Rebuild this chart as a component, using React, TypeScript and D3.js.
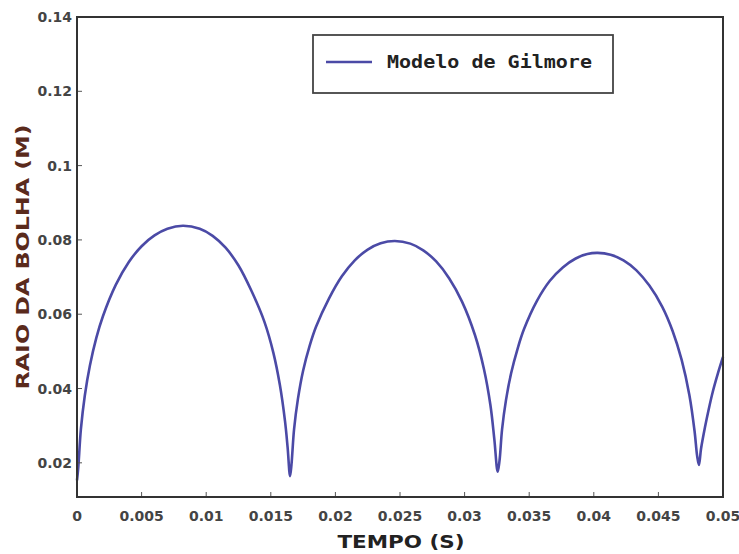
import React from "react";
import * as d3 from "d3";

const timeS: number[] = [
  0, 0.0001, 0.0003, 0.0006, 0.001, 0.0015, 0.002, 0.003, 0.004, 0.005, 0.006, 0.007, 0.0082,
  0.0095, 0.0105, 0.0115, 0.0125, 0.0135, 0.0145, 0.0152, 0.0157, 0.0161, 0.0163, 0.01649,
  0.0166, 0.0168, 0.0171, 0.0175, 0.018, 0.0185, 0.0195, 0.0205, 0.0215, 0.0225, 0.0235, 0.0246,
  0.0258, 0.0268, 0.0278, 0.0288, 0.0298, 0.0308, 0.0315, 0.032, 0.0323, 0.03256,
  0.0327, 0.0329, 0.0332, 0.0336, 0.0341, 0.0346, 0.0356, 0.0366, 0.0376, 0.0386, 0.0395, 0.0403,
  0.0413, 0.0423, 0.0433, 0.0443, 0.0453, 0.0461, 0.0468, 0.0474, 0.0478, 0.048, 0.04814,
  0.0483, 0.0486, 0.0489, 0.0492, 0.0496, 0.05,
];
const radiusM: number[] = [
  0.0153, 0.0188, 0.029, 0.038, 0.0462, 0.0537, 0.0594, 0.0679, 0.074, 0.0783, 0.0812, 0.083, 0.0838,
  0.083, 0.0811, 0.0779, 0.0731, 0.0663, 0.058, 0.0496, 0.041, 0.0312, 0.0242, 0.0164,
  0.0195, 0.029, 0.0372, 0.0448, 0.0514, 0.0566, 0.0642, 0.0702, 0.0745, 0.0774, 0.0791, 0.0797,
  0.079, 0.0772, 0.0742, 0.0697, 0.0634, 0.0544, 0.0452, 0.0355, 0.0264, 0.0176,
  0.0205, 0.029, 0.0368, 0.0441, 0.0507, 0.056, 0.0636, 0.069, 0.0726, 0.075, 0.0762, 0.0765,
  0.076, 0.0745, 0.0718, 0.0677, 0.062, 0.0555, 0.0477, 0.0382, 0.0285, 0.0218, 0.0194,
  0.0238, 0.0295, 0.0345, 0.039, 0.044, 0.0485,
];

const xTicks: number[] = [0, 0.005, 0.01, 0.015, 0.02, 0.025, 0.03, 0.035, 0.04, 0.045, 0.05];
const xTickLabels: string[] = ["0", "0.005", "0.01", "0.015", "0.02", "0.025", "0.03", "0.035", "0.04", "0.045", "0.05"];
const yTicks: number[] = [0.02, 0.04, 0.06, 0.08, 0.1, 0.12, 0.14];
const yTickLabels: string[] = ["0.02", "0.04", "0.06", "0.08", "0.1", "0.12", "0.14"];
const seriesName = "Modelo de Gilmore";
const xTitle = "TEMPO (S)";
const yTitle = "RAIO DA BOLHA (M)";

const W = 739;
const H = 554;
const L = 77;
const R = 723;
const T = 17;
const B = 497;

export default function App() {
  const x = d3.scaleLinear().domain([0, 0.05]).range([L, R]);
  const y = d3.scaleLinear().domain([0.0108, 0.14]).range([B, T]);
  const pts = timeS.map((t, i) => [t, radiusM[i]] as [number, number]);
  const line = d3
    .line<[number, number]>()
    .x((d) => x(d[0]))
    .y((d) => y(d[1]))
    .curve(d3.curveCatmullRom.alpha(0.5));
  const tickFont = "DejaVu Sans";
  return (
    <svg
      width={W}
      height={H}
      style={{ position: "absolute", left: 0, top: 0, background: "#fff" }}
    >
      <rect x={0} y={0} width={W} height={H} fill="#fff" />
      <path d={line(pts) || ""} fill="none" stroke="#4b4aa6" strokeWidth={2.6} strokeLinejoin="round" />
      {xTicks.map((t, i) => (
        <g key={"x" + i}>
          <line x1={x(t)} x2={x(t)} y1={B} y2={B - 5} stroke="#555" strokeWidth={1} />
          <text
            x={x(t)}
            y={B + 24}
            textAnchor="middle"
            fontFamily={tickFont}
            fontSize={14}
            fontWeight="bold"
            fill="#444"
          >
            {xTickLabels[i]}
          </text>
        </g>
      ))}
      {yTicks.map((v, i) => (
        <g key={"y" + i}>
          <line x1={L} x2={L + 5} y1={y(v)} y2={y(v)} stroke="#555" strokeWidth={1} />
          <text
            x={L - 5}
            y={y(v) + 5}
            textAnchor="end"
            fontFamily={tickFont}
            fontSize={14}
            fontWeight="bold"
            fill="#444"
          >
            {yTickLabels[i]}
          </text>
        </g>
      ))}
      <rect x={L} y={T} width={R - L} height={B - T} fill="none" stroke="#333" strokeWidth={2} />
      <g>
        <rect x={313} y={35} width={300} height={58} fill="#fff" stroke="#444" strokeWidth={1.8} />
        <line x1={326} x2={372} y1={62} y2={62} stroke="#4b4aa6" strokeWidth={2.6} />
        <text
          x={387}
          y={68}
          fontFamily="DejaVu Sans Mono"
          fontSize={17}
          fontWeight="bold"
          fill="#222"
          textLength={205}
          lengthAdjust="spacingAndGlyphs"
        >
          {seriesName}
        </text>
      </g>
      <text
        x={(L + R) / 2 + 1}
        y={548}
        textAnchor="middle"
        fontFamily="DejaVu Sans"
        fontSize={18}
        fontWeight="bold"
        fill="#222"
        textLength={127}
        lengthAdjust="spacingAndGlyphs"
      >
        {xTitle}
      </text>
      <text
        transform={`translate(29, ${(T + B) / 2}) rotate(-90)`}
        textAnchor="middle"
        fontFamily="DejaVu Sans"
        fontSize={18}
        fontWeight="bold"
        fill="#5a2a1c"
        textLength={265}
        lengthAdjust="spacingAndGlyphs"
      >
        {yTitle}
      </text>
    </svg>
  );
}
